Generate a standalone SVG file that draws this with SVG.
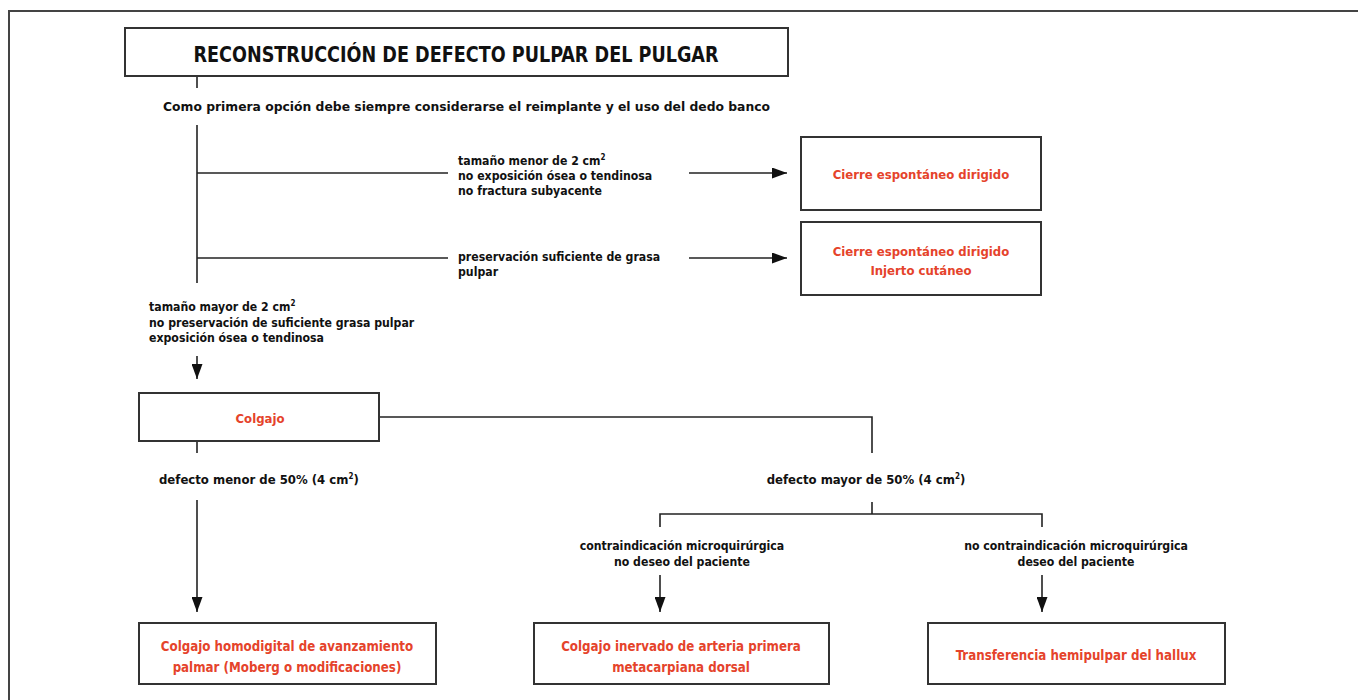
<svg xmlns="http://www.w3.org/2000/svg" width="1358" height="700" viewBox="0 0 1358 700">
<defs>
<style>
.t{font-family:"DejaVu Sans Condensed","Liberation Sans Narrow","Liberation Sans",sans-serif;font-weight:bold;font-size:12.2px;fill:#111}
.d{font-size:13px}
.r{fill:#e5432b;font-size:13px}
.rb{fill:#e5432b;font-size:13.2px}
.c{text-anchor:middle}
.box{fill:#fff;stroke:#333;stroke-width:2}
.ln{fill:none;stroke:#222;stroke-width:1.6}
.sup{font-size:8px}
</style>
<marker id="ah" viewBox="0 0 15 11" refX="15" refY="5.5" markerWidth="15" markerHeight="11" markerUnits="userSpaceOnUse" orient="auto">
<path d="M0,0 L15,5.5 L0,11 Z" fill="#111"/>
</marker>
</defs>
<rect width="1358" height="700" fill="#fff"/>
<path d="M9,700 V11 H1358" fill="none" stroke="#444" stroke-width="2"/>

<g id="connectors">
<line class="ln" x1="197" y1="77" x2="197" y2="88"/>
<line class="ln" x1="197" y1="125" x2="197" y2="283"/>
<line class="ln" x1="197" y1="173" x2="448" y2="173"/>
<line class="ln" x1="197" y1="258" x2="448" y2="258"/>
<line class="ln" x1="689" y1="173" x2="787" y2="173" marker-end="url(#ah)"/>
<line class="ln" x1="689" y1="258" x2="787" y2="258" marker-end="url(#ah)"/>
<line class="ln" x1="197" y1="356" x2="197" y2="379" marker-end="url(#ah)"/>
<line class="ln" x1="197" y1="441" x2="197" y2="453"/>
<polyline class="ln" points="379,417 872,417 872,453"/>
<line class="ln" x1="197" y1="500" x2="197" y2="612" marker-end="url(#ah)"/>
<line class="ln" x1="872" y1="502" x2="872" y2="514"/>
<polyline class="ln" points="660,527 660,514 1042,514 1042,527"/>
<line class="ln" x1="660" y1="575" x2="660" y2="612" marker-end="url(#ah)"/>
<line class="ln" x1="1042" y1="575" x2="1042" y2="612" marker-end="url(#ah)"/>
</g>

<g id="title">
<rect class="box" x="125" y="28" width="663" height="48"/>
<text class="t c" x="456" y="62" style="font-size:22px" textLength="525" lengthAdjust="spacingAndGlyphs">RECONSTRUCCIÓN DE DEFECTO PULPAR DEL PULGAR</text>
</g>

<g id="intro">
<text class="t d" x="163" y="111" textLength="607" lengthAdjust="spacingAndGlyphs">Como primera opción debe siempre considerarse el reimplante y el uso del dedo banco</text>
</g>

<g id="cond1">
<text class="t" x="458" y="165">tamaño menor de 2 cm<tspan class="sup" dy="-5">2</tspan></text>
<text class="t" x="458" y="180">no exposición ósea o tendinosa</text>
<text class="t" x="458" y="195">no fractura subyacente</text>
</g>

<g id="cond2">
<text class="t" x="458" y="261">preservación suficiente de grasa</text>
<text class="t" x="458" y="276">pulpar</text>
</g>

<g id="cierre1">
<rect class="box" x="801" y="137" width="240" height="73"/>
<text class="t r c" x="921" y="179">Cierre espontáneo dirigido</text>
</g>

<g id="cierre2">
<rect class="box" x="801" y="222" width="240" height="73"/>
<text class="t r c" x="921" y="256">Cierre espontáneo dirigido</text>
<text class="t r c" x="921" y="275">Injerto cutáneo</text>
</g>

<g id="cond3">
<text class="t" x="149" y="311">tamaño mayor de 2 cm<tspan class="sup" dy="-5">2</tspan></text>
<text class="t" x="149" y="327">no preservación de suficiente grasa pulpar</text>
<text class="t" x="149" y="342">exposición ósea o tendinosa</text>
</g>

<g id="colgajo">
<rect class="box" x="139" y="393" width="240" height="48"/>
<text class="t r c" x="260" y="423">Colgajo</text>
</g>

<g id="menor">
<text class="t d" x="159" y="484">defecto menor de 50% (4 cm<tspan class="sup" dy="-5">2</tspan><tspan dy="5">)</tspan></text>
</g>

<g id="mayor">
<text class="t d c" x="866" y="484">defecto mayor de 50% (4 cm<tspan class="sup" dy="-5">2</tspan><tspan dy="5">)</tspan></text>
</g>

<g id="contra">
<text class="t c" x="682" y="550">contraindicación microquirúrgica</text>
<text class="t c" x="682" y="566">no deseo del paciente</text>
</g>

<g id="nocontra">
<text class="t c" x="1076" y="550">no contraindicación microquirúrgica</text>
<text class="t c" x="1076" y="566">deseo del paciente</text>
</g>

<g id="moberg">
<rect class="box" x="139" y="623" width="297" height="61"/>
<text class="t rb c" x="287" y="651">Colgajo homodigital de avanzamiento</text>
<text class="t rb c" x="287" y="672">palmar (Moberg o modificaciones)</text>
</g>

<g id="inervado">
<rect class="box" x="534" y="623" width="295" height="61"/>
<text class="t rb c" x="681" y="651">Colgajo inervado de arteria primera</text>
<text class="t rb c" x="681" y="672">metacarpiana dorsal</text>
</g>

<g id="hallux">
<rect class="box" x="928" y="623" width="297" height="61"/>
<text class="t rb c" x="1076" y="660">Transferencia hemipulpar del hallux</text>
</g>
</svg>
